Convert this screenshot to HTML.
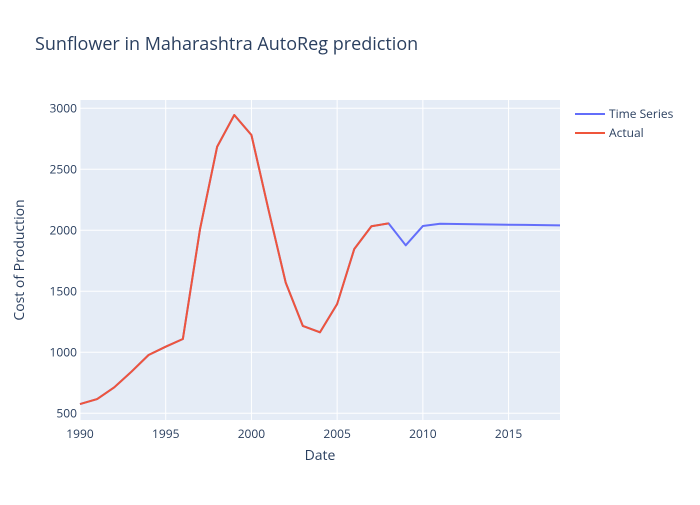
<!DOCTYPE html>
<html><head><meta charset="utf-8"><style>
body{margin:0;background:#fff;font-family:"Open Sans","Liberation Sans",sans-serif}
</style></head><body>
<svg id="chart" width="700" height="500" xmlns="http://www.w3.org/2000/svg">
<rect x="0" y="0" width="700" height="500" fill="#fff"/>
<rect x="80" y="100" width="480" height="320" fill="#e5ecf6"/>
<g id="grid"></g>
<g id="lines"></g>
<g id="ticks" font-size="12" fill="#2a3f5f"></g>
<text x="35" y="50" font-size="18" fill="#2a3f5f">Sunflower in Maharashtra AutoReg prediction</text>
<text x="320" y="460" font-size="14" fill="#2a3f5f" text-anchor="middle">Date</text>
<text transform="translate(24,260) rotate(-90)" font-size="14" fill="#2a3f5f" text-anchor="middle">Cost of Production</text>
<g font-size="12" fill="#2a3f5f">
<g><line x1="575" y1="114" x2="605" y2="114" stroke="#636efa" stroke-width="2"/><text x="609" y="118">Time Series</text></g>
<g><line x1="575" y1="133" x2="605" y2="133" stroke="#ef553b" stroke-width="2"/><text x="609" y="137">Actual</text></g>
</g>
</svg>
<script>
const years=[1990,1991,1992,1993,1994,1995,1996,1997,1998,1999,2000,2001,2002,2003,2004,2005,2006,2007,2008,2009,2010,2011,2012,2013,2014,2015,2016,2017,2018];
const seriesValues=[576,617,713,841,978,1046,1109,2008,2685,2945,2781,2166,1571,1216,1164,1396,1847,2033,2057,1877,2035,2054,2052,2050,2048,2046,2044,2042,2040];
const actualValues=[576,617,713,841,978,1046,1109,2008,2685,2945,2781,2166,1571,1216,1164,1396,1847,2033,2057];
const xTicks=[1990,1995,2000,2005,2010,2015];
const yTicks=[500,1000,1500,2000,2500,3000];
const NS="http://www.w3.org/2000/svg";
const x=v=>80+(v-1990)/28*480;
const y=v=>413.3-(v-500)*0.122;
const grid=document.getElementById('grid'),tk=document.getElementById('ticks'),ln=document.getElementById('lines');
xTicks.forEach(t=>{
 const l=document.createElementNS(NS,'line');
 l.setAttribute('x1',x(t));l.setAttribute('x2',x(t));l.setAttribute('y1',100);l.setAttribute('y2',420);
 l.setAttribute('stroke','#fff');l.setAttribute('stroke-width',1);
 
 
 grid.appendChild(l);
 const s=document.createElementNS(NS,'text');
 s.setAttribute('x',x(t));s.setAttribute('y',438);s.setAttribute('text-anchor','middle');s.textContent=t;
 
 
 tk.appendChild(s);
});
yTicks.forEach(t=>{
 const l=document.createElementNS(NS,'line');
 l.setAttribute('x1',80);l.setAttribute('x2',560);l.setAttribute('y1',y(t));l.setAttribute('y2',y(t));
 l.setAttribute('stroke','#fff');l.setAttribute('stroke-width',1);
 
 
 grid.appendChild(l);
 const s=document.createElementNS(NS,'text');
 s.setAttribute('x',77);s.setAttribute('y',y(t)+4);s.setAttribute('text-anchor','end');s.textContent=t;
 
 
 tk.appendChild(s);
});
function draw(vals,color,name){
 const p=document.createElementNS(NS,'polyline');
 p.setAttribute('points',vals.map((v,i)=>x(years[i])+','+y(v)).join(' '));
 p.setAttribute('fill','none');p.setAttribute('stroke',color);p.setAttribute('stroke-width',2);p.setAttribute('stroke-linejoin','round');
 
 
 ln.appendChild(p);
}
draw(seriesValues,'#636efa','time-series-line');
draw(actualValues,'#ef553b','actual-line');
</script>
</body></html>
